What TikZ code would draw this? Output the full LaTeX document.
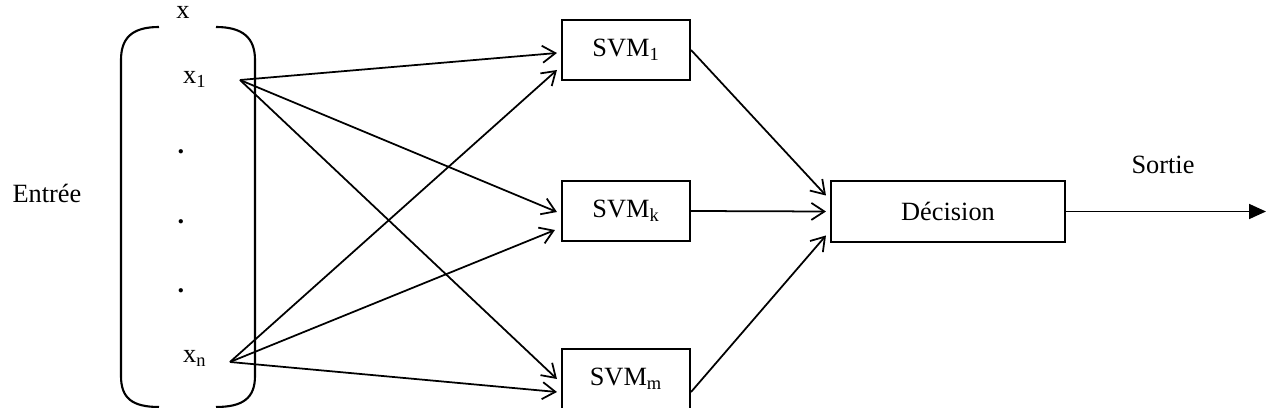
\documentclass[tikz,border=0pt]{standalone}
\usepackage{fontspec}
\setmainfont{Liberation Serif}
\usepackage{tikz}
\usetikzlibrary{
    arrows.meta,
    calc
}
\tikzset
{
  svmbox/.style={draw,line width=1.2pt,minimum width=2.56cm,minimum height=1.2cm,inner sep=0pt},
  decbox/.style={draw,line width=1.2pt,minimum width=4.68cm,minimum height=1.22cm,inner sep=0pt},
  link/.style={draw,line width=1pt,-{Straight Barb[length=2.6mm,width=3.4mm]}},
  outlink/.style={draw,line width=1pt,-{Triangle[length=3.4mm,width=3mm]}}
}

\begin{document}
\begin{tikzpicture}[x=0.02cm,y=-0.02cm,font=\fontsize{15}{18}\selectfont]
        \useasboundingbox (0,0) rectangle (1272,408);

        % Input vector x between round brackets
        \draw[line width=1.2pt] (159,27) .. controls (132,27) and (121,38) .. (121,60) -- (121,376) .. controls (121,398) and (132,407) .. (159,407);
        \draw[line width=1.2pt] (216,27) .. controls (243,27) and (255,38) .. (255,60) -- (255,376) .. controls (255,398) and (243,407) .. (216,407);
        \node (vecx) at (183,12) {x};
        \node[anchor=base west] (x1) at (177,84) {x\textsubscript{1}};
        \node[anchor=base west] (xn) at (177,363) {x\textsubscript{n}};
        \foreach \y/\name in {154/dota,224/dotb,293/dotc}
            \node[anchor=base] (\name) at (181,\y) {\textbf{.}};
        \node[anchor=base] (entree) at (47,203) {Entrée};
        \coordinate (x1out) at (240,80);
        \coordinate (xnout) at (230,362);

        % SVM classifiers
        \node[svmbox] (svm1) at (626,50) {SVM\textsubscript{1}};
        \node[svmbox] (svmk) at (626,211) {SVM\textsubscript{k}};
        \node[svmbox] (svmm) at (626,379) {SVM\textsubscript{m}};

        % Decision and output
        \node[decbox] (dec) at (948,211.5) {Décision};
        \node[anchor=base] (sortie) at (1163,174) {Sortie};
        \coordinate (outend) at (1266,211.5);

        % Links from the inputs
        \draw[link] (x1out) -- ($(svm1.west)+(-4,3)$);
        \draw[link] (x1out) -- ($(svmk.west)+(-4,1)$);
        \draw[link] (x1out) -- ($(svmm.west)+(-4,0)$);
        \draw[link] (xnout) -- ($(svm1.west)+(-4,20)$);
        \draw[link] (xnout) -- ($(svmk.west)+(-6,19)$);
        \draw[link] (xnout) -- ($(svmm.west)+(-4,13)$);

        % Links to the decision
        \draw[link] (svm1.east) -- ($(dec.west)+(-4,-16)$);
        \draw[link] (svmk.east) -- ($(dec.west)+(-4,0)$);
        \draw[link] ($(svmm.east)+(0,13)$) -- ($(dec.west)+(-4,24)$);
        \draw[outlink] (dec.east) -- (outend);
    \end{tikzpicture}
\end{document}
